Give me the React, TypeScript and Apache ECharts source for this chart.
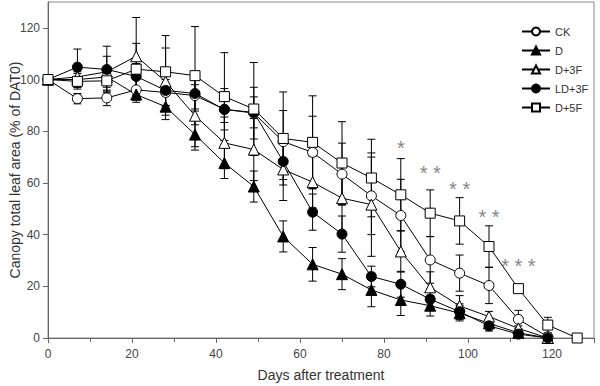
import React, { useEffect, useRef } from "react";
import * as echarts from "echarts";

const days = [0, 7, 14, 21, 28, 35, 42, 49, 56, 63, 70, 77, 84, 91, 98, 105, 112, 119];
const days5F = [...days, 126];

const ckVals = [100, 92.6, 92.9, 96, 95, 93.8, 88.5, 87, 76, 71.8, 63.4, 55, 47.4, 30.2, 25.1, 20.3, 7.2, 0.5];
const ckErr = [0, 2, 3, 4, 5, 6, 8, 10, 12, 14, 12, 15, 14, 9, 7, 7, 3.5, 1];

const dVals = [100, 100, 101, 94.2, 89.5, 78.7, 67.7, 58.6, 39.3, 28.5, 24.7, 18.6, 14.7, 12.5, 9.6, 5.7, 2, 0];
const dErr = [0, 3, 3, 3, 5, 6, 6, 6, 6, 6.5, 6, 6.5, 6, 4, 3, 2, 1, 0];

const d3fVals = [100, 101, 103, 109, 99.2, 86, 75.5, 72.9, 65.2, 60.3, 54.1, 51.6, 33.5, 19.6, 12.4, 8.3, 3.7, 0];
const d3fErr = [0, 4, 6, 15, 13, 12, 10, 12, 12, 10, 14, 20, 8, 6, 4, 2, 1, 0];

const ld3fVals = [100, 104.8, 103.9, 101.2, 95.8, 94.6, 88.4, 87.3, 68.3, 48.7, 40.2, 23.8, 20.8, 15, 10.2, 4.7, 1.5, 0];
const ld3fErr = [0, 7, 9, 5, 6, 6, 5, 6, 7, 7, 7, 4, 5, 4, 3, 2, 1, 0];

const d5fVals = [100, 99.3, 99.5, 104, 103, 101.5, 93.4, 88.6, 77.2, 75.7, 67.7, 61.9, 55.4, 48.3, 45.3, 35.4, 19.1, 5, 0];
const d5fErr = [0, 3, 4, 10, 14, 19, 17, 18, 18, 18, 16, 15, 14, 9, 9, 8, 1.5, 3, 0];

const starDays = [84, 91, 98, 105, 112];
const starY = [73.5, 64, 57.7, 47, 28];
const starText = ["*", "* *", "* *", "* *", "* * *"];

const FONT = "Liberation Sans";

type S = { name: string; x: number[]; v: number[]; e: number[]; symbol: string; fill: string };

const seriesDefs: S[] = [
  { name: "CK", x: days, v: ckVals, e: ckErr, symbol: "circle", fill: "#fff" },
  { name: "D", x: days, v: dVals, e: dErr, symbol: "triangle", fill: "#000" },
  { name: "D+3F", x: days, v: d3fVals, e: d3fErr, symbol: "triangle", fill: "#fff" },
  { name: "LD+3F", x: days, v: ld3fVals, e: ld3fErr, symbol: "circle", fill: "#000" },
  { name: "D+5F", x: days5F, v: d5fVals, e: d5fErr, symbol: "rect", fill: "#fff" },
];

export default function App() {
  const ref = useRef<HTMLDivElement>(null);
  useEffect(() => {
    if (!ref.current) return;
    const chart = echarts.init(ref.current, null, { renderer: "svg" });
    const series: any[] = [];
    seriesDefs.forEach((s) => {
      series.push({
        type: "custom",
        silent: true,
        z: 1,
        data: s.x.map((d, i) => [d, s.v[i] - s.e[i], s.v[i] + s.e[i]]),
        renderItem: (params: any, api: any) => {
          const x = api.value(0);
          const lo = api.coord([x, api.value(1)]);
          const hi = api.coord([x, api.value(2)]);
          const w = 4;
          const st = { stroke: "#000", lineWidth: 1 };
          return {
            type: "group",
            children: [
              { type: "line", shape: { x1: lo[0], y1: lo[1], x2: hi[0], y2: hi[1] }, style: st },
              { type: "line", shape: { x1: lo[0] - w, y1: lo[1], x2: lo[0] + w, y2: lo[1] }, style: st },
              { type: "line", shape: { x1: hi[0] - w, y1: hi[1], x2: hi[0] + w, y2: hi[1] }, style: st },
            ],
          };
        },
      });
    });
    seriesDefs.forEach((s) => {
      series.push({
        type: "line",
        name: s.name,
        z: 3,
        data: s.x.map((d, i) => [d, s.v[i]]),
        symbol: s.symbol,
        symbolSize: s.symbol === "triangle" ? 11 : 10,
        showAllSymbol: true,
        lineStyle: { color: "#000", width: 1 },
        itemStyle: { color: s.fill, borderColor: "#000", borderWidth: 1 },
      });
    });
    series.push({
      type: "scatter",
      symbolSize: 0,
      silent: true,
      data: starDays.map((d, i) => ({ value: [d, starY[i]], label: { formatter: starText[i] } })),
      label: { show: true, position: "inside", color: "#666", fontSize: 20, fontFamily: FONT },
    });

    chart.setOption({
      animation: false,
      backgroundColor: "#fff",
      grid: {
        left: 48,
        right: 6,
        top: 2,
        bottom: 48,
        show: true,
        borderColor: "#888",
        borderWidth: 1,
        containLabel: false,
        outerBoundsMode: "none",
      },
      legend: {
        data: seriesDefs.map((s) => s.name),
        orient: "vertical",
        left: 516,
        top: 21,
        itemWidth: 28,
        itemHeight: 10,
        itemGap: 8,
        textStyle: { fontSize: 11, color: "#333", fontFamily: FONT },
      },
      xAxis: {
        type: "value",
        min: 0,
        max: 130,
        interval: 20,
        name: "Days after treatment",
        nameLocation: "middle",
        nameGap: 30,
        nameMoveOverlap: false,
        nameTextStyle: { fontSize: 14, color: "#333", fontFamily: FONT },
        axisLine: { lineStyle: { color: "#666" } },
        axisTick: { show: true, length: 5, lineStyle: { color: "#666" } },
        minorTick: { show: true, splitNumber: 2, length: 4, lineStyle: { color: "#666" } },
        splitLine: { show: false },
        axisLabel: { showMaxLabel: false, fontSize: 12, color: "#444", margin: 10, fontFamily: FONT },
      },
      yAxis: {
        type: "value",
        min: 0,
        max: 130,
        interval: 20,
        name: "Canopy total leaf area (% of DAT0)",
        nameLocation: "middle",
        nameGap: 26,
        nameMoveOverlap: false,
        nameTextStyle: { fontSize: 14, color: "#333", fontFamily: FONT },
        axisLine: { show: true, lineStyle: { color: "#666" } },
        axisTick: { show: true, length: 5, lineStyle: { color: "#666" } },
        splitLine: { show: false },
        axisLabel: { showMaxLabel: false, fontSize: 12, color: "#444", margin: 8, fontFamily: FONT },
      },
      series,
    });
    return () => chart.dispose();
  }, []);
  return <div ref={ref} style={{ width: 600, height: 386, position: "absolute", left: 0, top: 0 }} />;
}
